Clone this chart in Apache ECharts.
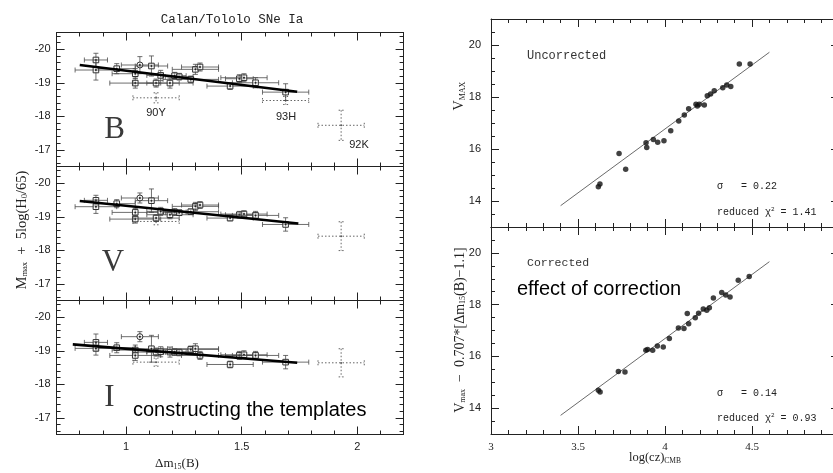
<!DOCTYPE html>
<html>
<head>
<meta charset="utf-8">
<script src="https://cdn.jsdelivr.net/npm/echarts@6/dist/echarts.min.js"></script>
<style>
  html, body { margin: 0; padding: 0; background: #fff; }
  #chart { width: 833px; height: 473px; }
</style>
</head>
<body>
<div id="chart"></div>
<script>
// ---- Calan/Tololo decline-rate sample (B, V, I peak magnitudes vs Δm15(B)) ----
const dm15    = [0.87, 0.87, 0.96, 1.04, 1.04, 1.06, 1.11, 1.13, 1.15, 1.19, 1.21, 1.23, 1.28, 1.30, 1.32, 1.45, 1.49, 1.51, 1.56, 1.69];
const dm15Err = [0.05, 0.09, 0.08, 0.10, 0.11, 0.08, 0.07, 0.10, 0.06, 0.10, 0.05, 0.06, 0.12, 0.10, 0.08, 0.10, 0.06, 0.10, 0.10, 0.10];

const magB    = [-19.68, -19.38, -19.42, -19.27, -18.99, -19.53, -19.50, -18.99, -19.22, -18.99, -19.21, -19.18, -19.10, -19.40, -19.47, -18.90, -19.12, -19.15, -19.00, -18.72];
const magBErr = [0.20, 0.30, 0.15, 0.15, 0.15, 0.25, 0.30, 0.12, 0.15, 0.15, 0.10, 0.10, 0.10, 0.15, 0.12, 0.10, 0.12, 0.12, 0.15, 0.25];
const magV    = [-19.49, -19.30, -19.39, -19.13, -18.93, -19.56, -19.48, -18.96, -19.16, -19.06, -19.14, -19.12, -19.15, -19.31, -19.35, -18.96, -19.06, -19.08, -19.04, -18.77];
const magVErr = [0.15, 0.20, 0.12, 0.12, 0.12, 0.15, 0.35, 0.10, 0.12, 0.12, 0.10, 0.08, 0.08, 0.12, 0.10, 0.08, 0.10, 0.10, 0.12, 0.20];
const magI    = [-19.25, -19.07, -19.09, -19.02, -18.86, -19.42, -19.06, -18.96, -18.97, -18.96, -18.96, -18.95, -19.04, -19.06, -18.86, -18.59, -18.86, -18.88, -18.86, -18.66];
const magIErr = [0.25, 0.20, 0.15, 0.15, 0.15, 0.15, 0.40, 0.12, 0.15, 0.15, 0.10, 0.10, 0.10, 0.15, 0.12, 0.10, 0.12, 0.12, 0.12, 0.20];

// objects left out of the fits (90Y, 93H, 92K)
const outBDm15 = [1.13, 1.69, 1.93];
const outBDm15Err = [0.10, 0.10, 0.10];
const outBMag = [-18.55, -18.47, -17.73];
const outBMagErr = [0.15, 0.12, 0.45];
const outVDm15 = [1.13, 1.93];
const outVDm15Err = [0.10, 0.10];
const outVMag = [-18.86, -18.42];
const outVMagErr = [0.10, 0.43];
const outIDm15 = [1.13, 1.93];
const outIDm15Err = [0.10, 0.10];
const outIMag = [-18.66, -18.64];
const outIMagErr = [0.12, 0.42];

// linear decline-rate fits (end points)
const fitBX = [0.80, 1.74];   const fitBY = [-19.53, -18.73];
const fitVX = [0.80, 1.745];  const fitVY = [-19.47, -18.80];
const fitIX = [0.77, 1.74];   const fitIY = [-19.19, -18.64];

// ---- Hubble diagrams ----
const logczRaw = [3.617, 3.626, 3.736, 3.774, 3.891, 3.895, 3.933, 3.958, 3.994, 4.033, 4.079, 4.111, 4.136, 4.178, 4.186, 4.197, 4.226, 4.243, 4.262, 4.283, 4.332, 4.355, 4.378, 4.427, 4.489];
const vmaxRaw  = [14.55, 14.65, 15.83, 15.22, 16.24, 16.06, 16.37, 16.26, 16.32, 16.70, 17.08, 17.31, 17.55, 17.72, 17.65, 17.72, 17.69, 18.05, 18.12, 18.24, 18.36, 18.46, 18.40, 19.27, 19.27];
const logczCor = [3.617, 3.627, 3.732, 3.770, 3.890, 3.900, 3.929, 3.956, 3.990, 4.025, 4.077, 4.109, 4.128, 4.136, 4.174, 4.193, 4.220, 4.240, 4.255, 4.278, 4.326, 4.349, 4.374, 4.421, 4.484];
const vmaxCor  = [14.69, 14.62, 15.42, 15.40, 16.24, 16.27, 16.24, 16.40, 16.36, 16.69, 17.10, 17.08, 17.66, 17.26, 17.49, 17.67, 17.83, 17.78, 17.88, 18.26, 18.47, 18.37, 18.29, 18.94, 19.09];
const hubbleRawX = [3.4, 4.6];  const hubbleRawY = [13.82, 19.72];
const hubbleCorX = [3.4, 4.6];  const hubbleCorY = [13.72, 19.66];

// ---- tick labels ----
const dm15Labels = [1, 1.5, 2];
const magLabels = [-20, -19, -18, -17];
const logczLabels = [3, 3.5, 4, 4.5];
const vLabels = [14, 16, 18, 20];

// marker shape per supernova (index 5 drawn as a circle)
const circleMarkers = [5];

function steps(min, max, step) {
  const out = [];
  const n = Math.round((max - min) / step);
  for (let i = 0; i <= n; i++) out.push(+(min + i * step).toFixed(6));
  return out;
}
function zip() {
  const cols = Array.prototype.slice.call(arguments);
  return cols[0].map((_, i) => cols.map(c => c[i]));
}

const INK = '#222';
const xAxes = [], yAxes = [];

// one panel: 8 axes (minor + major ticks on each of the four sides)
function panel(gi, xs, ys, opt) {
  const base = (o) => Object.assign({ type: 'value', gridIndex: gi, splitLine: { show: false } }, o);
  const lineOn = { show: true, onZero: false, lineStyle: { color: INK, width: 1 } };
  const lineOff = { show: false };
  const tick = (vals, len) => ({ show: true, inside: true, length: len, customValues: vals, lineStyle: { color: INK, width: 1 } });
  const noLab = { show: false };
  const xi = xAxes.length, yi = yAxes.length;
  const xb = { min: xs.min, max: xs.max };
  const yb = { min: ys.min, max: ys.max, inverse: !!ys.inverse };
  xAxes.push(base(Object.assign({}, xb, { position: 'bottom', axisLine: lineOn, axisTick: tick(xs.minor, 4),
    axisLabel: opt.xLabels ? { show: true, customValues: xs.labels, margin: opt.xMargin, color: INK, fontSize: 11, fontFamily: opt.xFont || 'Liberation Sans' } : noLab })));
  xAxes.push(base(Object.assign({}, xb, { position: 'bottom', axisLine: lineOff, axisTick: tick(xs.major, 8), axisLabel: noLab })));
  xAxes.push(base(Object.assign({}, xb, { position: 'top', axisLine: lineOn, axisTick: tick(xs.minor, 4), axisLabel: noLab })));
  xAxes.push(base(Object.assign({}, xb, { position: 'top', axisLine: lineOff, axisTick: tick(xs.major, 8), axisLabel: noLab })));
  yAxes.push(base(Object.assign({}, yb, { position: 'left', axisLine: lineOn, axisTick: tick(ys.minor, 4),
    axisLabel: { show: true, customValues: ys.labels, margin: opt.yMargin, color: INK, fontSize: 11, fontFamily: 'Liberation Sans' } })));
  yAxes.push(base(Object.assign({}, yb, { position: 'left', axisLine: lineOff, axisTick: tick(ys.major, 8), axisLabel: noLab })));
  yAxes.push(base(Object.assign({}, yb, { position: 'right', axisLine: lineOn, axisTick: tick(ys.minor, 4), axisLabel: noLab })));
  yAxes.push(base(Object.assign({}, yb, { position: 'right', axisLine: lineOff, axisTick: tick(ys.major, 8), axisLabel: noLab })));
  return { x: xi, y: yi };
}

const dmScale = { min: 0.7, max: 2.2, minor: steps(0.7, 2.2, 0.1), major: [1, 1.5, 2], labels: dm15Labels };
const magScale = { min: -20.5, max: -16.5, inverse: true, minor: steps(-20.4, -16.6, 0.2), major: [-20, -19, -18, -17], labels: magLabels };
const czScale = { min: 3, max: 5, minor: steps(3, 5, 0.1), major: [3, 3.5, 4, 4.5, 5], labels: logczLabels };
const vScale = { min: 13, max: 21, minor: steps(13, 21, 0.5), major: [14, 16, 18, 20], labels: vLabels };

const grids = [
  { left: 56.6, top: 32.5, width: 347, height: 134 },
  { left: 56.6, top: 166.5, width: 347, height: 134 },
  { left: 56.6, top: 300.5, width: 347, height: 134 },
  { left: 491, top: 19, width: 348, height: 208 },
  { left: 491, top: 227, width: 348, height: 207 }
].map(g => Object.assign({ containLabel: false, outerBoundsMode: 'none', show: false }, g));

const axB = panel(0, dmScale, magScale, { xLabels: false, yMargin: 6 });
const axV = panel(1, dmScale, magScale, { xLabels: false, yMargin: 6 });
const axI = panel(2, dmScale, magScale, { xLabels: true, xMargin: 7, yMargin: 6 });
const axU = panel(3, czScale, vScale, { xLabels: false, yMargin: 10 });
const axC = panel(4, czScale, vScale, { xLabels: true, xMargin: 8, yMargin: 10, xFont: 'Liberation Serif' });

// error-bar glyph: horizontal + vertical bars with caps, plus an open marker
function errorBars(dotted) {
  return function (params, api) {
    const x = api.value(0), y = api.value(1), ex = api.value(2), ey = api.value(3);
    const c = api.coord([x, y]);
    const l = api.coord([x - ex, y]), r = api.coord([x + ex, y]);
    const t = api.coord([x, y - ey]), b = api.coord([x, y + ey]);
    const st = { stroke: dotted ? '#666' : '#4a4a4a', lineWidth: dotted ? 1 : 0.8, lineDash: dotted ? [1.5, 2] : null, fill: null };
    const cap = 2.5;
    const seg = (x1, y1, x2, y2) => ({ type: 'line', shape: { x1, y1, x2, y2 }, style: st });
    const ch = [
      seg(l[0], l[1], r[0], r[1]),
      seg(t[0], t[1], b[0], b[1]),
      seg(l[0], l[1] - cap, l[0], l[1] + cap),
      seg(r[0], r[1] - cap, r[0], r[1] + cap),
      seg(t[0] - cap, t[1], t[0] + cap, t[1]),
      seg(b[0] - cap, b[1], b[0] + cap, b[1])
    ];
    if (!dotted) {
      const mk = { stroke: '#333', lineWidth: 1, fill: 'rgba(255,255,255,0.6)' };
      if (circleMarkers.indexOf(params.dataIndex) >= 0) {
        ch.push({ type: 'circle', shape: { cx: c[0], cy: c[1], r: 3 }, style: mk });
      } else {
        ch.push({ type: 'rect', shape: { x: c[0] - 2.8, y: c[1] - 2.8, width: 5.6, height: 5.6 }, style: mk });
      }
      ch.push({ type: 'circle', shape: { cx: c[0], cy: c[1], r: 1 }, style: { fill: '#222' } });
    } else {
      ch.push({ type: 'circle', shape: { cx: c[0], cy: c[1], r: 0.9 }, style: { fill: '#555' } });
    }
    return { type: 'group', children: ch };
  };
}

function bandSeries(ax, mags, errs, oDm, oDmErr, oMag, oMagErr, fx, fy) {
  return [
    { type: 'custom', coordinateSystem: 'cartesian2d', xAxisIndex: ax.x, yAxisIndex: ax.y, renderItem: errorBars(true),
      encode: { x: 0, y: 1 }, data: zip(oDm, oMag, oDmErr, oMagErr), z: 2, silent: true },
    { type: 'custom', coordinateSystem: 'cartesian2d', xAxisIndex: ax.x, yAxisIndex: ax.y, renderItem: errorBars(false),
      encode: { x: 0, y: 1 }, data: zip(dm15, mags, dm15Err, errs), z: 3, silent: true },
    { type: 'line', xAxisIndex: ax.x, yAxisIndex: ax.y, data: zip(fx, fy), symbol: 'none', z: 4, silent: true,
      lineStyle: { color: '#000', width: 2.6 } }
  ];
}

function hubbleSeries(ax, xs, ys, lx, ly) {
  return [
    { type: 'line', xAxisIndex: ax.x, yAxisIndex: ax.y, data: zip(lx, ly), symbol: 'none', z: 2, silent: true,
      lineStyle: { color: '#6a6a6a', width: 1 } },
    { type: 'scatter', xAxisIndex: ax.x, yAxisIndex: ax.y, data: zip(xs, ys), symbol: 'circle', symbolSize: 5.5, z: 3, silent: true,
      itemStyle: { color: '#111' } }
  ];
}

const series = [].concat(
  bandSeries(axB, magB, magBErr, outBDm15, outBDm15Err, outBMag, outBMagErr, fitBX, fitBY),
  bandSeries(axV, magV, magVErr, outVDm15, outVDm15Err, outVMag, outVMagErr, fitVX, fitVY),
  bandSeries(axI, magI, magIErr, outIDm15, outIDm15Err, outIMag, outIMagErr, fitIX, fitIY),
  hubbleSeries(axU, logczRaw, vmaxRaw, hubbleRawX, hubbleRawY),
  hubbleSeries(axC, logczCor, vmaxCor, hubbleCorX, hubbleCorY)
);

// text helpers for the annotations
function txt(text, x, y, size, family, extra) {
  return Object.assign({
    type: 'text', x: x, y: y, silent: true,
    style: Object.assign({ text: text, fontSize: size, fontFamily: family, fill: INK,
      align: 'left', verticalAlign: 'middle' }, (extra && extra.style) || {})
  }, extra && extra.el || {});
}
const SERIF = 'Liberation Serif';
const MONO = 'Liberation Mono';
const SANS = 'Liberation Sans';
const sub = (size, pad) => ({ fontSize: size, fontFamily: SERIF, fill: INK, padding: [pad, 0, 0, 0] });
const sup = (size, pad) => ({ fontSize: size, fontFamily: MONO, fill: INK, padding: [0, 0, pad, 0] });

const graphics = [
  txt('Calan/Tololo SNe Ia', 232, 20, 12.5, MONO, { style: { align: 'center' } }),
  txt('B', 114.5, 130, 31, SERIF, { style: { align: 'center', fill: '#3a3a3a' } }),
  txt('V', 113, 263, 31, SERIF, { style: { align: 'center', fill: '#3a3a3a' } }),
  txt('I', 109.5, 398, 31, SERIF, { style: { align: 'center', fill: '#3a3a3a' } }),
  txt('90Y', 156, 112.5, 11, SANS, { style: { align: 'center' } }),
  txt('93H', 286, 116.5, 11, SANS, { style: { align: 'center' } }),
  txt('92K', 359, 145, 11, SANS, { style: { align: 'center' } }),
  txt('constructing the templates', 133, 410, 20, SANS, { style: { fill: '#000' } }),
  txt('effect of correction', 517, 289, 20, SANS, { style: { fill: '#000' } }),
  txt('Uncorrected', 527, 56, 12, MONO, { style: { fill: '#333' } }),
  txt('Corrected', 527, 263, 11.5, MONO, { style: { fill: '#333' } }),
  txt('σ   = 0.22', 717, 186, 10, MONO),
  txt('reduced χ{p|2} = 1.41', 717, 212, 10, MONO, { style: { rich: { p: sup(6, 6) } } }),
  txt('σ   = 0.14', 717, 393, 10, MONO),
  txt('reduced χ{p|2} = 0.93', 717, 418, 10, MONO, { style: { rich: { p: sup(6, 6) } } }),
  // axis titles
  txt('M{s|max}  +  5log(H{s|0}/65)', 22, 230, 14.5, SERIF,
    { style: { align: 'center', rich: { s: sub(8.5, 6) } }, el: { rotation: Math.PI / 2 } }),
  txt('V{s|MAX}', 459, 96, 14, SERIF,
    { style: { align: 'center', rich: { s: sub(8, 7) } }, el: { rotation: Math.PI / 2 } }),
  txt('V{s|max}  −  0.707*[Δm{s|15}(B)−1.1]', 460, 330, 14, SERIF,
    { style: { align: 'center', rich: { s: sub(8, 6) } }, el: { rotation: Math.PI / 2 } }),
  txt('Δm{s|15}(B)', 177, 464, 13, SERIF, { style: { align: 'center', rich: { s: sub(8, 6) } } }),
  txt('log(cz){s|CMB}', 655, 458, 12.5, SERIF, { style: { align: 'center', rich: { s: sub(7.5, 6) } } })
];

const chart = echarts.init(document.getElementById('chart'), null, { renderer: 'canvas' });
chart.setOption({
  animation: false,
  backgroundColor: '#fff',
  grid: grids,
  xAxis: xAxes,
  yAxis: yAxes,
  series: series,
  graphic: graphics
});
</script>
</body>
</html>
